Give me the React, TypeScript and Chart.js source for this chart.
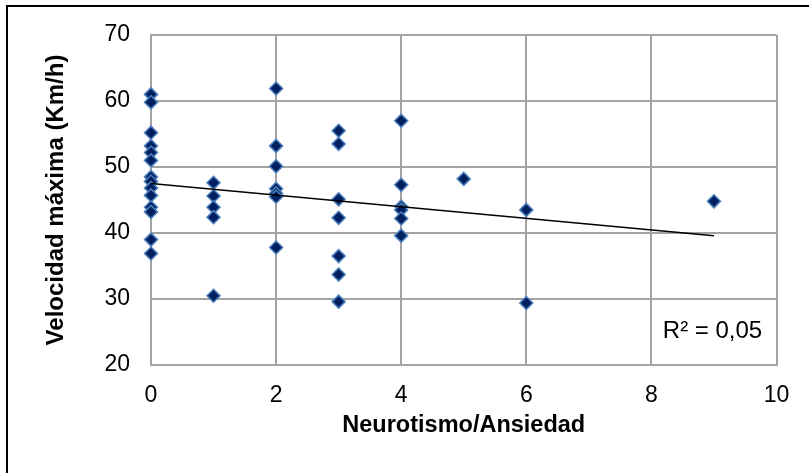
import React, { useEffect, useRef } from "react";
import { Chart, registerables } from "chart.js";

Chart.register(...registerables);

// Neuroticism/anxiety score for each participant
const neuroticism: number[] = [
  0, 0, 0, 0, 0, 0, 0, 0, 0, 0, 0, 0, 0, 0,
  1, 1, 1, 1, 1,
  2, 2, 2, 2, 2, 2, 2,
  3, 3, 3, 3, 3, 3, 3,
  4, 4, 4, 4, 4, 4,
  5,
  6, 6,
  9,
];

// Maximum speed reached (km/h), same order as above
const maxSpeed: number[] = [
  61.0, 59.8, 55.2, 53.2, 52.2, 51.0, 48.5, 47.8, 46.8, 45.7, 43.9, 43.2, 39.0, 36.9,
  47.6, 45.6, 43.9, 42.4, 30.5,
  61.9, 53.2, 50.1, 46.7, 46.0, 45.5, 37.8,
  55.5, 53.5, 45.1, 42.3, 36.5, 33.7, 29.6,
  57.0, 47.3, 44.0, 43.5, 42.2, 39.6,
  48.2,
  43.5, 29.4,
  44.8,
];

// Linear trend line end points
const trendX: number[] = [0, 9];
const trendY: number[] = [47.5, 39.6];

const rSquaredLabel = "R² = 0,05";
const xTitle = "Neurotismo/Ansiedad";
const yTitle = "Velocidad máxima (Km/h)";

const FONT = '"Liberation Sans", Arial, sans-serif';
const GRID = "#a3a3a3";

const decorations = {
  id: "decorations",
  afterDraw(chart: Chart) {
    const ctx = chart.ctx;
    const area = chart.chartArea;
    ctx.save();
    // outer frame (top and left edges)
    ctx.fillStyle = "#000";
    ctx.fillRect(6, 5, 2, chart.height - 5);
    ctx.fillRect(6, 5, chart.width - 6, 2);

    ctx.fillStyle = "#000";
    ctx.textAlign = "center";
    ctx.textBaseline = "middle";

    ctx.font = `bold 23.5px ${FONT}`;
    ctx.fillText(xTitle, (area.left + area.right) / 2, 426);

    ctx.font = `bold 24px ${FONT}`;
    ctx.save();
    ctx.translate(56, (area.top + area.bottom) / 2);
    ctx.rotate(-Math.PI / 2);
    ctx.fillText(yTitle, 0, 0);
    ctx.restore();

    ctx.font = `24px ${FONT}`;
    ctx.fillText(rSquaredLabel, 712.5, 331);
    ctx.restore();
  },
};

export default function App() {
  const canvasRef = useRef<HTMLCanvasElement | null>(null);

  useEffect(() => {
    const canvas = canvasRef.current;
    if (!canvas) return;

    const points = neuroticism.map((x, i) => ({ x, y: maxSpeed[i] }));
    const trend = trendX.map((x, i) => ({ x, y: trendY[i] }));

    const chart = new Chart(canvas, {
      type: "scatter",
      data: {
        datasets: [
          {
            type: "line",
            label: "Tendencia",
            data: trend,
            borderColor: "#000",
            borderWidth: 1.5,
            pointRadius: 0,
            fill: false,
            clip: false,
          },
          {
            label: "Velocidad máxima",
            data: points,
            pointStyle: "rectRot",
            pointRadius: 6.5,
            pointBackgroundColor: "#002060",
            pointBorderColor: "#4a7ebb",
            pointBorderWidth: 1.5,
            clip: false,
          },
        ],
      },
      options: {
        responsive: false,
        animation: false,
        devicePixelRatio: 1,
        layout: { padding: { top: 35, right: 32.5, bottom: 0, left: 0 } },
        plugins: {
          legend: { display: false },
          tooltip: { enabled: false },
        },
        scales: {
          x: {
            type: "linear",
            min: 0,
            max: 10,
            ticks: {
              stepSize: 2,
              color: "#000",
              padding: 17,
              font: { family: FONT, size: 23 },
            },
            grid: { color: GRID, lineWidth: 2, drawTicks: false },
            border: { color: GRID, width: 2 },
            afterFit: (scale: any) => {
              scale.height = 108;
            },
          },
          y: {
            type: "linear",
            min: 20,
            max: 70,
            ticks: {
              stepSize: 10,
              color: "#000",
              padding: 21,
              font: { family: FONT, size: 23 },
            },
            grid: { color: GRID, lineWidth: 2, drawTicks: false },
            border: { color: GRID, width: 2 },
            afterFit: (scale: any) => {
              scale.width = 151;
            },
          },
        },
      },
      plugins: [decorations],
    });

    return () => chart.destroy();
  }, []);

  return (
    <div style={{ position: "absolute", left: 0, top: 0, width: 809, height: 473, background: "#fff" }}>
      <canvas ref={canvasRef} width={809} height={473} />
    </div>
  );
}
